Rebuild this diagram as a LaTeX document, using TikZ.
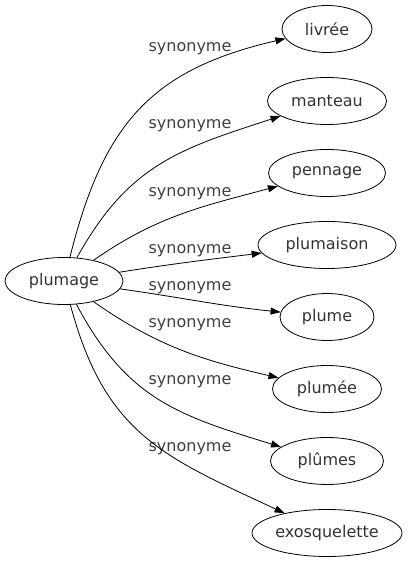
\documentclass[tikz,border=0pt]{standalone}
\usepackage{fontspec}
\setmainfont{DejaVu Sans}
\usepackage{tikz}
\usetikzlibrary{shapes, arrows.meta, positioning}

\begin{document}
\begin{tikzpicture}[
  x=1pt, y=1pt,
  word/.style={ellipse, draw=black, line width=0.8pt, inner sep=0pt, minimum height=47pt, text=black!80, font=\fontsize{16}{19}\selectfont},
  link/.style={draw=black, line width=0.8pt, -{Triangle[length=10pt, width=7pt]}},
  syn/.style={text=black!75, inner sep=0pt, font=\fontsize{16}{19}\selectfont}
]
  \useasboundingbox (0,0) rectangle (412,563);
  \node[word, minimum width=118pt] (plumage) at (64, 282) {plumage};
  \node[word, minimum width=90pt] (livree) at (327, 534) {livrée};
  \node[word, minimum width=119pt] (manteau) at (327, 462) {manteau};
  \node[word, minimum width=117pt] (pennage) at (327, 390) {pennage};
  \node[word, minimum width=138pt] (plumaison) at (327, 318) {plumaison};
  \node[word, minimum width=94pt] (plume) at (327, 246) {plume};
  \node[word, minimum width=109pt] (plumee) at (327, 174) {plumée};
  \node[word, minimum width=113pt] (plumes) at (327, 102) {plûmes};
  \node[word, minimum width=150pt] (exosquelette) at (327, 30) {exosquelette};

  \node[syn] (syn1) at (190, 514) {synonyme};
  \node[syn] (syn2) at (190, 437) {synonyme};
  \node[syn] (syn3) at (190, 369) {synonyme};
  \node[syn] (syn4) at (190, 312) {synonyme};
  \node[syn] (syn5) at (190, 275) {synonyme};
  \node[syn] (syn6) at (190, 238) {synonyme};
  \node[syn] (syn7) at (190, 181) {synonyme};
  \node[syn] (syn8) at (190, 114) {synonyme};

  \draw[link] (plumage) to[out=76, in=193, looseness=1.15] (livree);
  \draw[link] (plumage) to[out=61, in=198, looseness=1.1] (manteau);
  \draw[link] (plumage) to[out=35, in=195] (pennage);
  \draw[link] (plumage) to[out=9, in=187] (plumaison);
  \draw[link] (plumage) to[out=-8, in=174] (plume);
  \draw[link] (plumage) to[out=-35, in=167] (plumee);
  \draw[link] (plumage) to[out=-62, in=163, looseness=1.1] (plumes);
  \draw[link] (plumage) to[out=-75, in=155, looseness=1.15] (exosquelette);
\end{tikzpicture}
\end{document}
